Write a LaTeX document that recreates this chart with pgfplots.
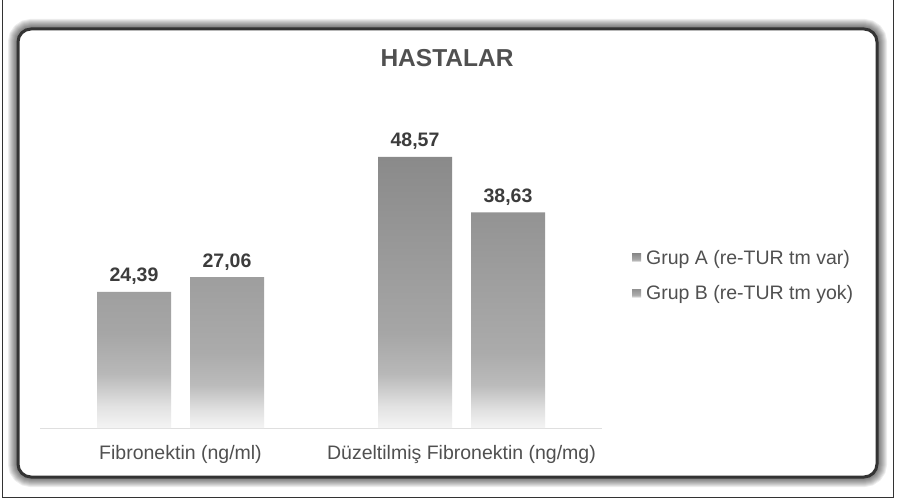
\documentclass[border=0pt]{standalone}
\usepackage{pgfplots}
\pgfplotsset{compat=1.18}
\usepackage{fontspec}
\setmainfont{Liberation Sans}
\definecolor{barA}{HTML}{8A8A8A}
\definecolor{barB}{HTML}{939393}
\definecolor{fa1}{HTML}{F4F4F4}
\definecolor{fa2}{HTML}{E2E2E2}
\definecolor{fa3}{HTML}{B8B8B8}
\definecolor{fa4}{HTML}{A6A6A6}
\definecolor{fb3}{HTML}{BBBBBB}
\definecolor{fb4}{HTML}{ABABAB}
\definecolor{txt}{HTML}{505050}
\definecolor{valtxt}{HTML}{3C3C3C}
\definecolor{framec}{HTML}{333333}
\pgfdeclareverticalshading{fadeA}{100bp}{color(0bp)=(fa1); color(25bp)=(fa1); color(29bp)=(fa2); color(35bp)=(fa3); color(42.5bp)=(fa4); color(75bp)=(barA); color(100bp)=(barA)}
\pgfdeclareverticalshading{fadeB}{100bp}{color(0bp)=(fa1); color(25bp)=(fa1); color(29bp)=(fa2); color(35bp)=(fb3); color(42.5bp)=(fb4); color(75bp)=(barB); color(100bp)=(barB)}
\begin{document}
\begin{tikzpicture}
\useasboundingbox (0,0) rectangle (897pt,499pt);
\fill[white] (0,0) rectangle (897pt,499pt);
\draw[framec, line width=1pt] (2.5pt,2pt) rectangle (893.5pt,502pt);
\foreach \w in {2,4,...,20} \draw[black, opacity=0.07, line width=\w pt, rounded corners=13pt] (18pt,22pt) rectangle (877pt,470pt);
\fill[white, rounded corners=13pt] (18pt,22pt) rectangle (877pt,470pt);
\draw[framec, line width=3pt, rounded corners=13pt] (18pt,22pt) rectangle (877pt,470pt);
\node[font=\fontsize{24.5}{28}\selectfont\bfseries, text=txt] at (447pt,441pt) {HASTALAR};
\begin{axis}[
  scale only axis, width=562pt, height=334.8pt,
  at={(40pt,71pt)}, anchor=south west,
  xmin=-0.5, xmax=1.5, ymin=0, ymax=60,
  ybar=19pt, bar width=74pt,
  xtick={0,1},
  xticklabels={Fibronektin (ng/ml), Düzeltilmiş Fibronektin (ng/mg)},
  xtick style={draw=none}, ytick=\empty,
  axis y line=none, axis x line*=bottom,
  x axis line style={draw=gray!25, line width=1pt, -},
  x tick label style={font=\fontsize{19.5}{22}\selectfont, text=txt, yshift=-10pt},
  nodes near coords,
  every node near coord/.append style={font=\fontsize{19.5}{22}\selectfont\bfseries, text=valtxt, anchor=base, yshift=10pt},
  /pgf/number format/use comma,
  /pgf/number format/fixed,
  /pgf/number format/fixed zerofill,
  /pgf/number format/precision=2,
  /pgf/number format/assume math mode=true,
  legend style={at={(1,0.455)}, anchor=west, xshift=27pt, draw=none, fill=none,
    font=\fontsize{19.5}{22}\selectfont, text=txt, row sep=16pt,
    nodes={inner sep=2pt}},
  legend cell align=left,
  clip=false,
]
\addplot[draw=none, shading=fadeA,
  legend image code/.code={\fill[barA] (0pt,-4pt) rectangle (9pt,4pt);}]
  coordinates {(0,24.39) (1,48.57)};
\addlegendentry{\hspace{3pt}Grup A (re-TUR tm var)}
\addplot[draw=none, shading=fadeB,
  legend image code/.code={\fill[barB] (0pt,-4pt) rectangle (9pt,4pt);}]
  coordinates {(0,27.06) (1,38.63)};
\addlegendentry{\hspace{3pt}Grup B (re-TUR tm yok)}
\end{axis}
\end{tikzpicture}
\end{document}
